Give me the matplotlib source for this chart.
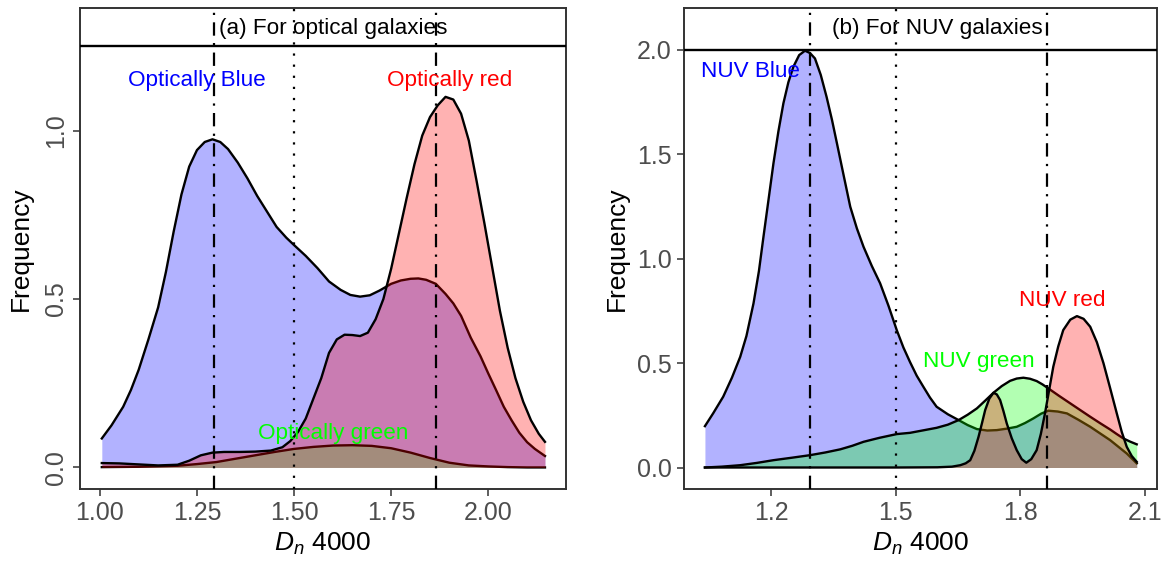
import numpy as np
import matplotlib
matplotlib.use('Agg')
import matplotlib.pyplot as plt

plt.rcParams['font.family'] = ['Liberation Sans', 'DejaVu Sans']
plt.rcParams['mathtext.fontset'] = 'custom'
plt.rcParams['mathtext.rm'] = 'Liberation Sans'
plt.rcParams['mathtext.it'] = 'Liberation Sans:italic'

# (a) optical galaxies - density curves
opt_blue_x = [1.005, 1.03, 1.06, 1.08, 1.10, 1.125, 1.15, 1.17, 1.19, 1.21, 1.23, 1.25, 1.27, 1.29,
              1.31, 1.33, 1.355, 1.38, 1.405, 1.43, 1.455, 1.48, 1.50, 1.53, 1.56, 1.59, 1.62, 1.645,
              1.67, 1.695, 1.72, 1.75, 1.775, 1.80, 1.82, 1.84, 1.865, 1.89, 1.91, 1.93, 1.955, 1.98,
              2.00, 2.02, 2.04, 2.06, 2.08, 2.10, 2.12, 2.146]
opt_blue_y = [0.086, 0.125, 0.180, 0.230, 0.290, 0.380, 0.475, 0.580, 0.700, 0.810, 0.893, 0.942, 0.966, 0.974,
              0.966, 0.945, 0.905, 0.858, 0.806, 0.760, 0.714, 0.682, 0.660, 0.628, 0.592, 0.552, 0.527, 0.512,
              0.507, 0.511, 0.525, 0.545, 0.555, 0.560, 0.561, 0.557, 0.545, 0.515, 0.487, 0.450, 0.385, 0.330,
              0.279, 0.230, 0.180, 0.140, 0.103, 0.075, 0.055, 0.034]

opt_green_x = [1.005, 1.10, 1.20, 1.25, 1.30, 1.35, 1.40, 1.45, 1.50, 1.55, 1.60, 1.65, 1.70, 1.75,
               1.80, 1.85, 1.90, 1.95, 2.00, 2.05, 2.10, 2.146]
opt_green_y = [0.001, 0.002, 0.005, 0.010, 0.016, 0.026, 0.036, 0.046, 0.055, 0.061, 0.065, 0.066, 0.064, 0.057,
               0.044, 0.028, 0.014, 0.006, 0.003, 0.001, 0.000, 0.000]

opt_red_x = [1.005, 1.05, 1.10, 1.15, 1.20, 1.23, 1.26, 1.29, 1.32, 1.36, 1.40, 1.44, 1.47, 1.49, 1.51,
             1.53, 1.55, 1.57, 1.59, 1.61, 1.63, 1.65, 1.67, 1.69, 1.71, 1.73, 1.75, 1.77, 1.79, 1.81,
             1.83, 1.85, 1.87, 1.89, 1.91, 1.93, 1.95, 1.97, 1.99, 2.01, 2.03, 2.05, 2.07, 2.09, 2.11,
             2.13, 2.146]
opt_red_y = [0.013, 0.012, 0.009, 0.006, 0.008, 0.020, 0.036, 0.044, 0.046, 0.046, 0.047, 0.050, 0.060, 0.078, 0.105,
             0.145, 0.205, 0.265, 0.340, 0.380, 0.394, 0.393, 0.390, 0.400, 0.440, 0.500, 0.590, 0.695, 0.800, 0.900,
             0.985, 1.040, 1.075, 1.100, 1.092, 1.050, 0.970, 0.850, 0.725, 0.595, 0.465, 0.355, 0.265, 0.195, 0.140,
             0.100, 0.076]

# (b) NUV galaxies
nuv_blue_x = [1.040, 1.06, 1.084, 1.105, 1.125, 1.14, 1.157, 1.17, 1.181, 1.193, 1.205, 1.217, 1.229, 1.241,
              1.253, 1.267, 1.281, 1.293, 1.305, 1.319, 1.333, 1.346, 1.358, 1.374, 1.390, 1.406, 1.422, 1.442,
              1.462, 1.482, 1.502, 1.518, 1.534, 1.550, 1.566, 1.582, 1.598, 1.625, 1.651, 1.673, 1.695, 1.72,
              1.743, 1.767, 1.791, 1.811, 1.831, 1.85, 1.867, 1.89, 1.912, 1.94, 1.968, 1.992, 2.016, 2.036,
              2.056, 2.080]
nuv_blue_y = [0.198, 0.26, 0.339, 0.43, 0.530, 0.63, 0.786, 0.94, 1.105, 1.28, 1.456, 1.61, 1.744, 1.845,
              1.919, 1.975, 1.996, 1.985, 1.959, 1.88, 1.775, 1.665, 1.552, 1.40, 1.249, 1.145, 1.057, 0.965,
              0.882, 0.775, 0.658, 0.575, 0.505, 0.440, 0.387, 0.335, 0.291, 0.255, 0.227, 0.203, 0.184, 0.177,
              0.179, 0.186, 0.195, 0.213, 0.235, 0.258, 0.272, 0.268, 0.259, 0.228, 0.195, 0.163, 0.131, 0.099,
              0.067, 0.020]

nuv_green_x = [1.040, 1.08, 1.125, 1.165, 1.205, 1.25, 1.293, 1.33, 1.366, 1.395, 1.422, 1.46, 1.502, 1.534,
               1.566, 1.598, 1.625, 1.651, 1.673, 1.695, 1.715, 1.735, 1.755, 1.775, 1.791, 1.807, 1.823, 1.839,
               1.853, 1.867, 1.893, 1.920, 1.944, 1.968, 1.992, 2.016, 2.032, 2.048, 2.064, 2.080]
nuv_green_y = [0.0, 0.004, 0.011, 0.022, 0.035, 0.047, 0.059, 0.072, 0.087, 0.104, 0.123, 0.142, 0.160, 0.166,
               0.178, 0.190, 0.205, 0.227, 0.253, 0.283, 0.320, 0.358, 0.390, 0.415, 0.426, 0.430, 0.425, 0.414,
               0.398, 0.379, 0.343, 0.307, 0.275, 0.243, 0.212, 0.182, 0.160, 0.139, 0.124, 0.111]

nuv_red_x = [1.040, 1.50, 1.60, 1.635, 1.655, 1.668, 1.679, 1.689, 1.699, 1.707, 1.715, 1.725, 1.735, 1.743,
             1.751, 1.759, 1.767, 1.779, 1.791, 1.803, 1.814, 1.826, 1.839, 1.849, 1.859, 1.869, 1.879, 1.891,
             1.903, 1.92, 1.936, 1.952, 1.968, 1.984, 2.000, 2.016, 2.032, 2.044, 2.056, 2.068, 2.080]
nuv_red_y = [0.0, 0.0, 0.001, 0.004, 0.011, 0.020, 0.035, 0.080, 0.147, 0.210, 0.275, 0.330, 0.358, 0.350,
             0.323, 0.270, 0.211, 0.140, 0.083, 0.040, 0.023, 0.040, 0.083, 0.160, 0.259, 0.370, 0.482, 0.580,
             0.658, 0.708, 0.725, 0.712, 0.674, 0.600, 0.499, 0.380, 0.259, 0.170, 0.099, 0.055, 0.027]

vlines = [1.293, 1.5, 1.865]
vstyles = ['dashdot', 'dotted', 'dashdot']

opt_labels = ['Optically Blue', 'Optically green', 'Optically red']
opt_label_pos = [(1.25, 1.15), (1.6, 0.10), (1.9, 1.15)]
nuv_labels = ['NUV Blue', 'NUV green', 'NUV red']
nuv_label_pos = [(1.15, 1.895), (1.70, 0.51), (1.90, 0.80)]
label_cols = ['#0000FF', '#00FF00', '#FF0000']

fig = plt.figure(figsize=(11.71, 5.65), dpi=100)
axL = fig.add_axes([0.0682, 0.1345, 0.4151, 0.8515])
axR = fig.add_axes([0.5838, 0.1345, 0.4043, 0.8515])

dash_styles = {'dashdot': (0, (6.0, 3.3, 1, 3.3)), 'dotted': (0, (1, 4.0))}


def draw_panel(ax, curves, labels, label_pos, title, title_y, hline_y):
    z = 1
    for (x, y), col in zip(curves, ['#0000FF', '#00FF00', '#FF0000']):
        ax.fill_between(x, 0, y, color=col, alpha=0.3, lw=0, zorder=z)
        ax.plot(x, y, color='black', lw=1.7, zorder=z + 0.5, solid_joinstyle='round')
        z += 1
    for v, st in zip(vlines, vstyles):
        ax.axvline(v, color='black', lw=1.6, linestyle=dash_styles[st], dash_capstyle='butt', zorder=10)
    ax.axhline(hline_y, color='black', lw=1.7, zorder=10)
    ax.text(1.6, title_y, title, ha='center', va='center', fontsize=16.2, color='black', zorder=11)
    for lab, (px, py), col in zip(labels, label_pos, label_cols):
        ax.text(px, py, lab, ha='center', va='center', fontsize=16.2, color=col, zorder=11)
    for s in ax.spines.values():
        s.set_color('#333333')
        s.set_linewidth(1.4)
    ax.tick_params(axis='both', colors='#333333', width=1.1, length=5, labelsize=18,
                   labelcolor='#4D4D4D')
    ax.set_xlabel(r'$D_n$ 4000', fontsize=19, labelpad=4)
    ax.set_ylabel('Frequency', fontsize=19)


draw_panel(axL, [(opt_blue_x, opt_blue_y), (opt_green_x, opt_green_y), (opt_red_x, opt_red_y)],
           opt_labels, opt_label_pos, '(a) For optical galaxies', 1.303, 1.25)
axL.set_xlim(0.9485, 2.2)
axL.set_ylim(-0.064, 1.364)
axL.set_xticks([1.00, 1.25, 1.50, 1.75, 2.00])
axL.set_xticklabels(['1.00', '1.25', '1.50', '1.75', '2.00'])
axL.set_yticks([0.0, 0.5, 1.0])
axL.set_yticklabels(['0.0', '0.5', '1.0'], rotation=90, va='center')
axL.yaxis.labelpad = 8

draw_panel(axR, [(nuv_blue_x, nuv_blue_y), (nuv_green_x, nuv_green_y), (nuv_red_x, nuv_red_y)],
           nuv_labels, nuv_label_pos, '(b) For NUV galaxies', 2.10, 2.0)
axR.set_xlim(0.9887, 2.129)
axR.set_ylim(-0.103, 2.201)
axR.set_xticks([1.2, 1.5, 1.8, 2.1])
axR.set_xticklabels(['1.2', '1.5', '1.8', '2.1'])
axR.set_yticks([0.0, 0.5, 1.0, 1.5, 2.0])
axR.set_yticklabels(['0.0', '0.5', '1.0', '1.5', '2.0'])
axR.yaxis.labelpad = 6

fig.savefig('out.png', dpi=100)
